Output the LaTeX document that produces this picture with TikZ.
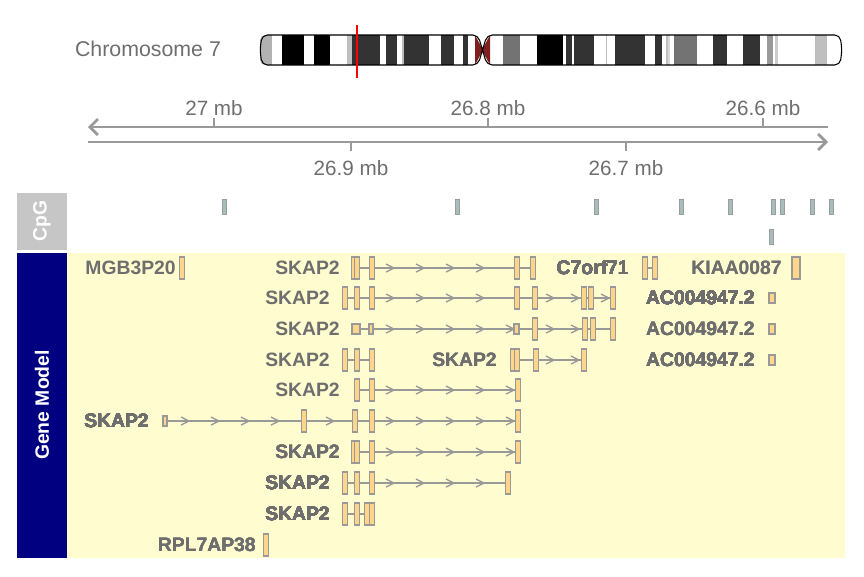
\documentclass[tikz,border=0pt]{standalone}
\usepackage{fontspec}
\setmainfont{Liberation Sans}
\usetikzlibrary{arrows.meta}
\definecolor{txtgray}{HTML}{6E6E6E}
\definecolor{lngray}{HTML}{999999}
\definecolor{exfill}{HTML}{FFD58A}
\definecolor{bgyel}{HTML}{FFFDD0}
\definecolor{navyp}{HTML}{000080}
\definecolor{cenred}{HTML}{7F1F1F}
\tikzset{
  exon/.style={draw=lngray,fill=exfill,line width=0.8pt},
  glabel/.style={text=txtgray,font=\fontsize{14.5}{16}\selectfont\bfseries,inner sep=0pt,anchor=east},
  tick/.style={text=txtgray,font=\fontsize{15.5}{17}\selectfont,inner sep=0pt},
  intron/.style={draw=lngray,line width=1pt},
  cpg/.style={draw=gray!70!black!60,fill=lngray!70!teal!60,line width=0.4pt}
}
% exon at x, row y
\newcommand{\ex}[2]{\path[exon] (#1-2.5,#2-11) rectangle (#1+2.5,#2+11);}
\newcommand{\chev}[2]{\draw[intron] (#1-4,#2-4) -- (#1+4,#2) -- (#1-4,#2+4);}
\begin{document}
\begin{tikzpicture}[x=0.75pt,y=-0.75pt]
  \useasboundingbox (0,0) rectangle (864,576);
  % ideogram
  \node[text=txtgray,font=\fontsize{16}{18}\selectfont,inner sep=0pt] (chr) at (148,49) {Chromosome 7};
  \begin{scope}
    \clip[rounded corners=4pt] (260,35) rectangle (478,65);
    \fill[white] (260,35) rectangle (478,65);
    \foreach \a/\b/\c in {260/272/gray!60,282/304/black,314/330/black,347/352/gray!50,352/380/black!80,386/397/black!80,402/404/gray!50,404/429/black!80,441/454/black!80,463/468/black!80}
      \fill[\c] (\a,35) rectangle (\b,65);
  \end{scope}
  \begin{scope}
    \clip[rounded corners=4pt] (487,35) rectangle (842,65);
    \fill[white] (487,35) rectangle (842,65);
    \foreach \a/\b/\c in {503/520/black!55,537/563/black,566/572/black!80,574/594/black!80,606/607/gray!50,615/645/black!80,655/662/black!80,666/669/gray!50,668/670/gray!30,674/697/black!55,713/727/black!80,743/760/black!80,767/773/black!40,775/778/gray!40,815/827/gray!50}
      \fill[\c] (\a,35) rectangle (\b,65);
  \end{scope}
  \fill[cenred] (475,35) -- (483,50) -- (475,65) -- cycle;
  \fill[cenred] (490,35) -- (482,50) -- (490,65) -- cycle;
  \draw[line width=0.8pt,rounded corners=4pt] (478,35) -- (262,35) -- (260,50) -- (262,65) -- (478,65) -- (487,35) -- (840,35) -- (842,50) -- (840,65) -- (487,65) -- cycle;
  \draw[red,line width=2pt] (357,25) -- (357,78);
  % axis
  \draw[lngray,line width=2pt,-{Straight Barb[length=6pt,width=12pt]}] (828,127) -- (88,127);
  \draw[lngray,line width=2pt,-{Straight Barb[length=6pt,width=12pt]}] (88,142) -- (828,142);
  \foreach \x/\t/\n in {214/27 mb/ta,488/26.8 mb/tb,763/26.6 mb/tc} {
    \draw[lngray,line width=1.5pt] (\x,127) -- (\x,118);
    \node[tick] (\n) at (\x,108) {\t};
  }
  \foreach \x/\t/\n in {351/26.9 mb/td,626/26.7 mb/te} {
    \draw[lngray,line width=1.5pt] (\x,142) -- (\x,151);
    \node[tick] (\n) at (\x,168) {\t};
  }
  % CpG track
  \fill[gray!45] (17,193) rectangle (67,250);
  \node[rotate=90,text=white,font=\fontsize{14.5}{16}\selectfont\bfseries] (cpgt) at (42,221) {CpG};
  \foreach \x in {224,457,596,681,730,773,782,812,831}
    \path[cpg] (\x-2,199) rectangle (\x+2,214);
  \path[cpg] (771-2,229) rectangle (771+2,244);
  % gene model track
  \fill[navyp] (17,253) rectangle (67,558);
  \fill[bgyel] (67,253) rectangle (845,558);
  \node[rotate=90,text=white,font=\fontsize{14.5}{16}\selectfont\bfseries] (gmt) at (42,405) {Gene Model};
  % row 1
  \node[glabel] (g1) at (176,268) {MGB3P20};
  \ex{182}{268}
  \node[glabel] (g2) at (340,268) {SKAP2};
  \draw[intron] (354,268) -- (533,268);
  \foreach \x in {390,420,450,480} \chev{\x}{268}
  \foreach \x in {354,357,372,517,533} \ex{\x}{268}
  \node[glabel] (g3) at (629,268) {C7orf71};
  \draw[intron] (645,268) -- (655,268);
  \foreach \x in {645,655} \ex{\x}{268}
  \node[glabel] (g4) at (782,268) {KIAA0087};
  \path[exon] (792,257) rectangle (800,279);
  % row 2
  \node[glabel] (g5) at (330,298) {SKAP2};
  \draw[intron] (345,298) -- (613,298);
  \foreach \x in {390,420,450,480,550,575,605} \chev{\x}{298}
  \foreach \x in {345,357,372,517,535,584,591,613} \ex{\x}{298}
  \node[glabel] (g6) at (755,298) {AC004947.2};
  \path[exon] (769,293) rectangle (775,303);
  % row 3
  \node[glabel] (g7) at (340,329) {SKAP2};
  \draw[intron] (355,329) -- (613,329);
  \foreach \x in {390,420,450,480,510,550,575} \chev{\x}{329}
  \path[exon] (352,324) rectangle (360,334);
  \path[exon] (369,324) rectangle (373,334);
  \path[exon] (514,324) rectangle (519,334);
  \foreach \x in {535,585,593,613} \ex{\x}{329}
  \node[glabel] (g8) at (755,329) {AC004947.2};
  \path[exon] (769,324) rectangle (775,334);
  % row 4
  \node[glabel] (g9) at (330,360) {SKAP2};
  \draw[intron] (345,360) -- (372,360);
  \foreach \x in {345,357,372} \ex{\x}{360}
  \node[glabel] (g10) at (497,360) {SKAP2};
  \draw[intron] (513,360) -- (584,360);
  \foreach \x in {550,575} \chev{\x}{360}
  \foreach \x in {513,517,536,584} \ex{\x}{360}
  \node[glabel] (g11) at (755,360) {AC004947.2};
  \path[exon] (769,355) rectangle (775,365);
  % row 5
  \node[glabel] (g12) at (340,390) {SKAP2};
  \draw[intron] (357,390) -- (518,390);
  \foreach \x in {390,420,450,480,510} \chev{\x}{390}
  \foreach \x in {357,372,518} \ex{\x}{390}
  % row 6
  \node[glabel] (g13) at (149,421) {SKAP2};
  \draw[intron] (165,421) -- (518,421);
  \foreach \x in {185,215,245,275,330,390,420,450,480,510} \chev{\x}{421}
  \path[exon] (163,416) rectangle (167,426);
  \foreach \x in {304,355,372,518} \ex{\x}{421}
  % row 7
  \node[glabel] (g14) at (340,452) {SKAP2};
  \draw[intron] (354,452) -- (518,452);
  \foreach \x in {390,420,450,480,510} \chev{\x}{452}
  \foreach \x in {354,357,372,518} \ex{\x}{452}
  % row 8
  \node[glabel] (g15) at (330,483) {SKAP2};
  \draw[intron] (345,483) -- (508,483);
  \foreach \x in {390,420,450,480} \chev{\x}{483}
  \foreach \x in {345,357,372,508} \ex{\x}{483}
  % row 9
  \node[glabel] (g16) at (330,514) {SKAP2};
  \draw[intron] (345,514) -- (372,514);
  \foreach \x in {345,357,367,372} \ex{\x}{514}
  % row 10
  \node[glabel] (g17) at (256,545) {RPL7AP38};
  \ex{266}{545}
\end{tikzpicture}
\end{document}
